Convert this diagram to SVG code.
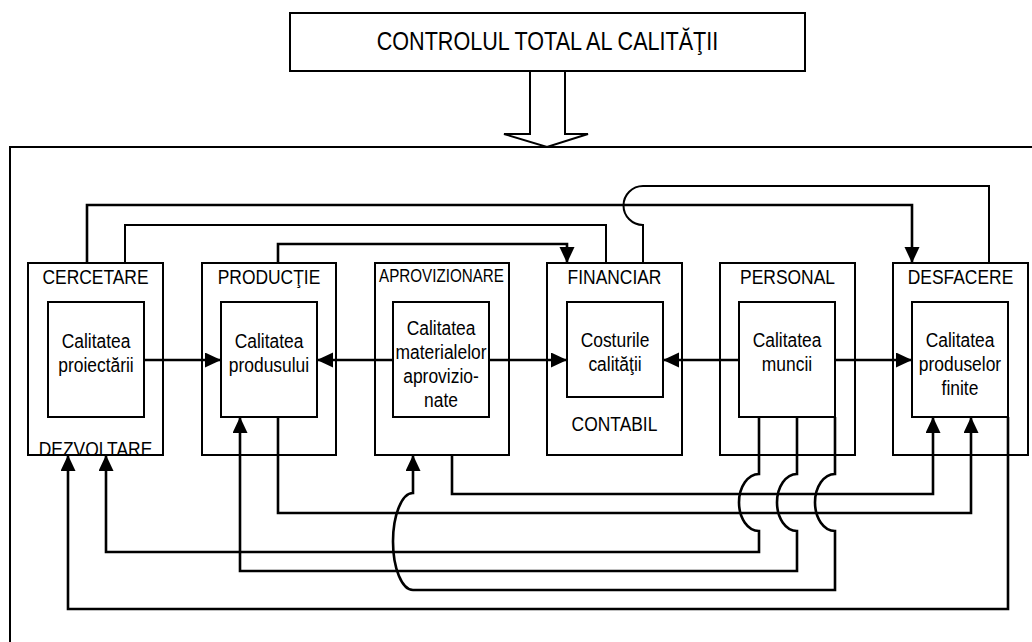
<svg xmlns="http://www.w3.org/2000/svg" width="1032" height="642" viewBox="0 0 1032 642">
  <style>
    .box { fill: none; stroke: #000; stroke-width: 2; }
    .inner { fill: #fff; stroke: #000; stroke-width: 2; }
    .t { font-family: "Liberation Sans", Arial, sans-serif; font-size: 21px; fill: #000; text-anchor: middle; }
    .c { fill: none; stroke: #000; stroke-width: 2; }
    .ca { fill: none; stroke: #000; stroke-width: 2.6; marker-end: url(#ah); }
  </style>
  <defs>
    <marker id="ah" markerUnits="userSpaceOnUse" markerWidth="16" markerHeight="16" refX="16" refY="7.5" orient="auto">
      <path d="M0,0 L16,7.5 L0,15 Z" fill="#000"/>
    </marker>
    <clipPath id="cerc-clip">
      <rect x="28" y="263" width="135" height="191"/>
    </clipPath>
  </defs>

  <rect x="0" y="0" width="1032" height="642" fill="#fff"/>

  <!-- header -->
  <g id="header">
    <rect class="box" x="290" y="13" width="515" height="58"/>
    <text class="t" style="font-size:26px" transform="matrix(0.83 0 0 1 547.5 0)" x="0" y="50">CONTROLUL TOTAL AL CALITĂŢII</text>
  </g>

  <!-- hollow arrow down to the enterprise frame -->
  <g id="flow-arrow">
    <polygon points="530,71 530,134 504,134 547,147 588,134 565,134 565,71" fill="#fff" stroke="#000" stroke-width="2"/>
  </g>

  <!-- enterprise frame -->
  <g id="frame">
    <path class="box" d="M1040,147 H10 V650"/>
  </g>

  <g id="cercetare">
    <text class="t" transform="matrix(0.83 0 0 1 95.5 0)" x="0" y="284">CERCETARE</text>
    <g clip-path="url(#cerc-clip)">
      <text class="t" transform="matrix(0.83 0 0 1 95.5 0)" x="0" y="456">DEZVOLTARE</text>
    </g>
    <rect class="box" x="28" y="263" width="135" height="192"/>
    <rect class="inner" x="48" y="302" width="96" height="115"/>
    <text class="t" transform="matrix(0.83 0 0 1 96 0)" x="0" y="348">Calitatea</text>
    <text class="t" transform="matrix(0.83 0 0 1 96 0)" x="0" y="372">proiectării</text>
  </g>

  <g id="productie">
    <rect class="box" x="202" y="263" width="134" height="192"/>
    <text class="t" transform="matrix(0.83 0 0 1 269 0)" x="0" y="284">PRODUCŢIE</text>
    <rect class="inner" x="221" y="302" width="96" height="115"/>
    <text class="t" transform="matrix(0.83 0 0 1 269 0)" x="0" y="348">Calitatea</text>
    <text class="t" transform="matrix(0.83 0 0 1 269 0)" x="0" y="372">produsului</text>
  </g>

  <g id="aprovizionare">
    <rect class="box" x="375" y="263" width="134" height="192"/>
    <text class="t" style="font-size:18.3px" transform="matrix(0.83 0 0 1 441.5 0)" x="0" y="282">APROVIZIONARE</text>
    <rect class="inner" x="393" y="302" width="96" height="115"/>
    <text class="t" transform="matrix(0.83 0 0 1 441 0)" x="0" y="335">Calitatea</text>
    <text class="t" transform="matrix(0.83 0 0 1 441 0)" x="0" y="359">materialelor</text>
    <text class="t" transform="matrix(0.83 0 0 1 441 0)" x="0" y="383">aprovizio-</text>
    <text class="t" transform="matrix(0.83 0 0 1 441 0)" x="0" y="407">nate</text>
  </g>

  <g id="financiar">
    <rect class="box" x="547" y="263" width="135" height="192"/>
    <text class="t" transform="matrix(0.83 0 0 1 614.5 0)" x="0" y="284">FINANCIAR</text>
    <rect class="inner" x="567" y="302" width="96" height="95"/>
    <text class="t" transform="matrix(0.83 0 0 1 615 0)" x="0" y="347">Costurile</text>
    <text class="t" transform="matrix(0.83 0 0 1 615 0)" x="0" y="371">calităţii</text>
    <text class="t" transform="matrix(0.83 0 0 1 614.5 0)" x="0" y="431">CONTABIL</text>
  </g>

  <g id="personal">
    <rect class="box" x="720" y="263" width="135" height="192"/>
    <text class="t" transform="matrix(0.83 0 0 1 787.5 0)" x="0" y="284">PERSONAL</text>
    <rect class="inner" x="739" y="302" width="96" height="115"/>
    <text class="t" transform="matrix(0.83 0 0 1 787 0)" x="0" y="347">Calitatea</text>
    <text class="t" transform="matrix(0.83 0 0 1 787 0)" x="0" y="371">muncii</text>
  </g>

  <g id="desfacere">
    <rect class="box" x="893" y="263" width="135" height="192"/>
    <text class="t" transform="matrix(0.83 0 0 1 960.5 0)" x="0" y="284">DESFACERE</text>
    <rect class="inner" x="912" y="302" width="96" height="115"/>
    <text class="t" transform="matrix(0.83 0 0 1 960 0)" x="0" y="347">Calitatea</text>
    <text class="t" transform="matrix(0.83 0 0 1 960 0)" x="0" y="371">produselor</text>
    <text class="t" transform="matrix(0.83 0 0 1 960 0)" x="0" y="395">finite</text>
  </g>

  <g id="connectors">
    <!-- upper links -->
    <path class="ca" d="M87,263 V205 H912 V263"/>
    <path class="c" d="M125,263 V225 H606 V263"/>
    <path class="ca" d="M278,263 V244 H567 V263"/>
    <path class="c" d="M643,263 V225 A19.5,19.5 0 0 1 643,186 H989 V263"/>

    <!-- middle row -->
    <path class="ca" d="M144,360 H221"/>
    <path class="ca" d="M393,360 H317"/>
    <path class="ca" d="M489,360 H567"/>
    <path class="ca" d="M739,360 H663"/>
    <path class="ca" d="M835,360 H912"/>

    <!-- lower links -->
    <path class="ca" d="M452,455 V494 H933 V417"/>
    <path class="ca" d="M278,417 V513 H971 V417"/>
    <path class="ca" d="M759,417 V474 A20,28.5 0 0 0 759,531 V552 H106 V455"/>
    <path class="ca" d="M797,417 V474 A20,28.5 0 0 0 797,531 V571 H240 V417"/>
    <path class="ca" d="M835,417 V474 A20,28.5 0 0 0 835,531 V590 H413 A20,48.5 0 0 1 413,493 V455"/>
    <path class="ca" d="M1008,417 V609 H68 V455"/>
  </g>
</svg>
